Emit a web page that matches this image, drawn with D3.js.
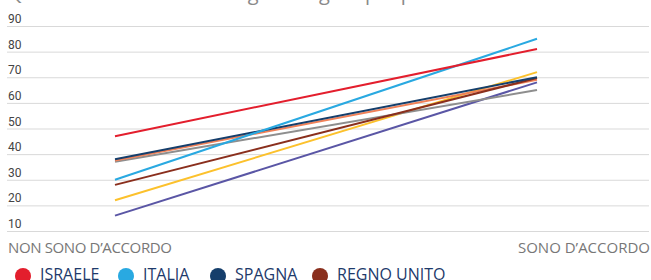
<!DOCTYPE html>
<html>
<head>
<meta charset="utf-8">
<script src="https://cdn.jsdelivr.net/npm/d3@7"></script>
<style>
  body { margin: 0; background: #fff; }
  svg { display: block; }
</style>
</head>
<body>
<div id="root"></div>
<script>
const countries = ['ISRAELE', 'ITALIA', 'SPAGNA', 'REGNO UNITO', 'FRANCIA', 'GERMANIA', 'STATI UNITI', 'SVEZIA'];
const colors = ['#e31e2d', '#29a9e1', '#153e6b', '#8a2f1d', '#f08158', '#8e8e8e', '#fcc12c', '#5a56a5'];
const disagree = [47, 30, 38, 28, 37.5, 37, 22, 16];
const agree = [81, 85, 70, 69.7, 69, 65, 72, 68];
const endLabels = ['NON SONO D\u2019ACCORDO', 'SONO D\u2019ACCORDO'];
const ticks = [10, 20, 30, 40, 50, 60, 70, 80, 90];

const width = 651, height = 280;
const svg = d3.select('#root').append('svg')
  .attr('width', width)
  .attr('height', height);

// cropped heading, only descenders show
svg.append('text')
  .attr('x', 8).attr('y', 0)
  .style('font-family', 'Open Sans')
  .style('font-size', '20px')
  .style('fill', '#8a8a8a')
  .attr('textLength', 447)
  .text('Quanto si è d\u2019accordo con gli immigrati per paese');

const x = d3.scalePoint().domain([0, 1]).range([115, 537]);
const y = d3.scaleLinear().domain([10, 90]).range([231, 26]);

svg.selectAll('line.grid')
  .data(ticks)
  .join('line')
  .attr('class', 'grid')
  .attr('x1', 7).attr('x2', 649)
  .attr('y1', d => y(d) + 0.5).attr('y2', d => y(d) + 0.5)
  .style('stroke', '#d9d9d9')
  .style('stroke-width', 1);

svg.selectAll('text.tick')
  .data(ticks)
  .join('text')
  .attr('class', 'tick')
  .attr('x', 8)
  .attr('y', d => y(d) - 3)
  .style('font-family', 'Roboto')
  .style('font-size', '12px')
  .style('fill', '#444')
  .text(d => d);

const series = countries.map((c, i) => ({ name: c, color: colors[i], values: [disagree[i], agree[i]] }));
const line = d3.line().x((d, i) => x(i)).y(d => y(d));

// draw in reverse so the first series sits on top
svg.selectAll('path.series')
  .data(series.slice().reverse())
  .join('path')
  .attr('class', 'series')
  .attr('d', d => line(d.values))
  .style('fill', 'none')
  .style('stroke', d => d.color)
  .style('stroke-width', 2);

svg.append('text')
  .attr('x', 8).attr('y', 253)
  .style('font-family', 'Open Sans')
  .style('font-size', '15px')
  .style('fill', '#777')
  .attr('textLength', 164)
  .text(endLabels[0]);

svg.append('text')
  .attr('x', 650).attr('y', 253)
  .attr('text-anchor', 'end')
  .style('font-family', 'Open Sans')
  .style('font-size', '15px')
  .style('fill', '#777')
  .text(endLabels[1]);

// legend, second row falls outside the frame
const legendX = [23, 126, 218, 320];
const legend = svg.selectAll('g.legend')
  .data(series)
  .join('g')
  .attr('class', 'legend')
  .attr('transform', (d, i) => `translate(${legendX[i % 4]},${276 + Math.floor(i / 4) * 24})`);

legend.append('circle')
  .attr('r', 8)
  .style('fill', d => d.color);

legend.append('text')
  .attr('x', 17)
  .attr('y', 4)
  .style('font-family', 'Open Sans')
  .style('font-size', '16px')
  .style('fill', '#1e3a6b')
  .text(d => d.name);
</script>
</body>
</html>
